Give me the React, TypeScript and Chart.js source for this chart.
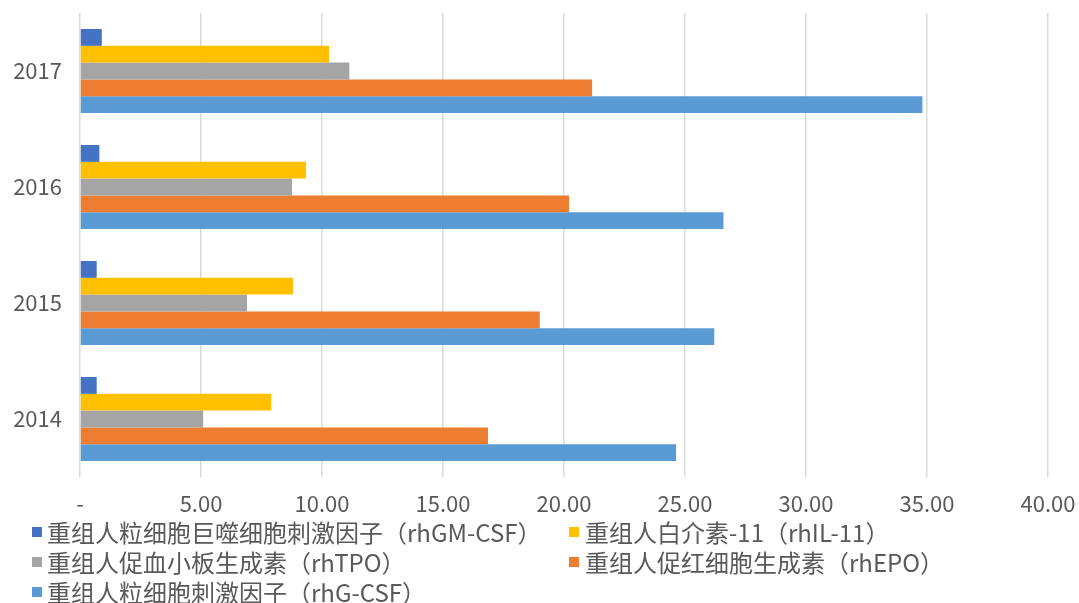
import React, { useEffect, useRef } from "react";
import { Chart, registerables } from "chart.js";

Chart.register(...registerables);

const categories = ["2017", "2016", "2015", "2014"];
const seriesNames = [
  "重组人粒细胞巨噬细胞刺激因子（rhGM-CSF）",
  "重组人白介素-11（rhIL-11）",
  "重组人促血小板生成素（rhTPO）",
  "重组人促红细胞生成素（rhEPO）",
  "重组人粒细胞刺激因子（rhG-CSF）",
];
const seriesColors = ["#4472C4", "#FFC000", "#A5A5A5", "#ED7D31", "#5B9BD5"];
const rhGMCSF = [0.9, 0.8, 0.69, 0.69];
const rhIL11 = [10.29, 9.34, 8.8, 7.9];
const rhTPO = [11.13, 8.76, 6.9, 5.09];
const rhEPO = [21.16, 20.21, 19.0, 16.86];
const rhGCSF = [34.81, 26.59, 26.21, 24.63];
const seriesValues = [rhGMCSF, rhIL11, rhTPO, rhEPO, rhGCSF];
const xTicks = [0, 5, 10, 15, 20, 25, 30, 35, 40];

const FONT = "'Noto Sans CJK SC', 'Noto Sans', sans-serif";
const TEXT = "#595959";

export default function App() {
  const ref = useRef<HTMLCanvasElement | null>(null);

  useEffect(() => {
    if (!ref.current) return;
    const chart = new Chart(ref.current, {
      type: "bar",
      data: {
        labels: categories,
        datasets: seriesValues.map((vals, i) => ({
          label: seriesNames[i],
          data: vals,
          backgroundColor: seriesColors[i],
          borderWidth: 0,
          categoryPercentage: 0.724,
          barPercentage: 1,
        })),
      },
      options: {
        indexAxis: "y",
        animation: false,
        responsive: false,
        maintainAspectRatio: false,
        layout: { padding: { left: 12, top: 13, right: 31, bottom: 2 } },
        plugins: {
          legend: { display: false },
          tooltip: { enabled: false },
        },
        scales: {
          x: {
            min: 0,
            max: 40,
            afterBuildTicks: (axis: any) => {
              axis.ticks = xTicks.map((v) => ({ value: v }));
            },
            afterFit: (axis: any) => {
              axis.paddingLeft = 0;
              axis.paddingRight = 0;
              axis.height = 41;
            },
            grid: { color: "#D9D9D9", lineWidth: 1.5, drawTicks: false },
            border: { display: false },
            ticks: {
              color: TEXT,
              font: { family: FONT, size: 22 },
              padding: 13,
              maxRotation: 0,
              callback: (v: any) => (Number(v) === 0 ? "-" : Number(v).toFixed(2)),
            },
          },
          y: {
            afterFit: (axis: any) => {
              axis.width = 68;
              axis.paddingTop = 0;
              axis.paddingBottom = 0;
            },
            grid: { display: false, drawTicks: false },
            border: { display: false },
            ticks: {
              color: TEXT,
              font: { family: FONT, size: 22 },
              padding: 18,
            },
          },
        },
      },
    });
    return () => chart.destroy();
  }, []);

  const legendRows = [
    [0, 1],
    [2, 3],
    [4],
  ];

  return (
    <div
      style={{
        position: "fixed",
        left: 0,
        top: 0,
        width: 1079,
        height: 603,
        background: "#fff",
        fontFamily: FONT,
      }}
    >
      <canvas ref={ref} width={1079} height={520} style={{ display: "block" }} />
      {legendRows.map((row, r) =>
        row.map((idx, c) => (
          <div
            key={idx}
            style={{
              position: "absolute",
              left: c === 0 ? 32 : 569,
              top: 532 + r * 30 - 15,
              height: 30,
              display: "flex",
              alignItems: "center",
              whiteSpace: "nowrap",
              color: TEXT,
              fontSize: 24,
              lineHeight: "30px",
            }}
          >
            <span
              style={{
                display: "inline-block",
                width: 10,
                height: 10,
                background: seriesColors[idx],
                marginRight: c === 0 ? 5 : 6,
              }}
            />
            <span>{seriesNames[idx]}</span>
          </div>
        ))
      )}
    </div>
  );
}
